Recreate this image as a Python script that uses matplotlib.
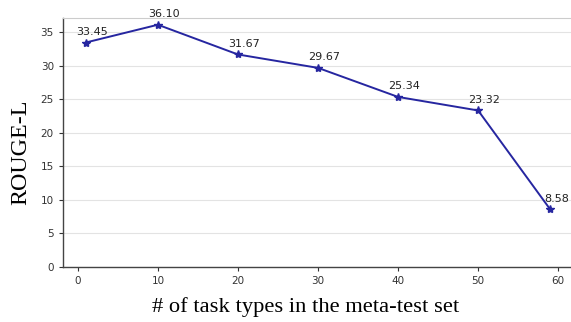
import matplotlib
matplotlib.use('Agg')
import matplotlib.pyplot as plt

# number of task types vs ROUGE-L
task_types = [1, 10, 20, 30, 40, 50, 59]
rouge_l = [33.45, 36.10, 31.67, 29.67, 25.34, 23.32, 8.58]
x_ticks = [0, 10, 20, 30, 40, 50, 60]
y_ticks = [0, 5, 10, 15, 20, 25, 30, 35]

fig = plt.figure(figsize=(5.71, 3.22), dpi=100)
ax = fig.add_axes([0.110, 0.171, 0.890, 0.773])

ax.plot(task_types, rouge_l, "-", marker="*", color="#2626a0", lw=1.4, ms=6)
for x, y in zip(task_types, rouge_l):
    ax.annotate(f"{y:.2f}", (x, y), xytext=(4.5, 4), textcoords="offset points",
                ha="center", va="bottom", fontsize=8, color="#222222")

ax.set_xlim(-1.875, 61.6)
ax.set_ylim(0, 37.1)
ax.set_xticks(x_ticks)
ax.set_yticks(y_ticks)
ax.tick_params(labelsize=7.5, colors="#333333", length=3, width=0.8)
ax.grid(axis="y", color="#e3e3e3", lw=0.8)
ax.set_axisbelow(True)

for side in ("left", "bottom"):
    ax.spines[side].set_color("#444444")
    ax.spines[side].set_linewidth(1.0)
ax.spines["top"].set_color("#cccccc")
ax.spines["top"].set_linewidth(0.8)
ax.spines["right"].set_visible(False)

ax.set_xlabel("# of task types in the meta-test set", family="Liberation Serif",
              fontsize=16.2, labelpad=8)
ax.set_ylabel("ROUGE-L", family="Liberation Serif", fontsize=17.3, labelpad=7)
# the original labels sit a little off-centre
ax.xaxis.label.set_x(0.478)
ax.yaxis.label.set_y(0.462)

fig.savefig("out.png", dpi=100)
